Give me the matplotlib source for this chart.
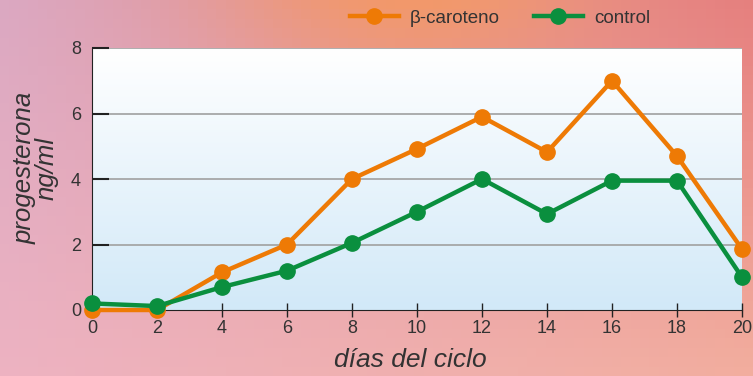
import matplotlib.pyplot as plt
import numpy as np
from matplotlib.colors import LinearSegmentedColormap
from matplotlib.lines import Line2D

plt.rcParams['font.family'] = ['Liberation Sans', 'DejaVu Sans']

dias = [0, 2, 4, 6, 8, 10, 12, 14, 16, 18, 20]
beta_caroteno = [0, 0, 1.15, 2.0, 4.0, 4.92, 5.9, 4.82, 7.0, 4.7, 1.86]
control = [0.2, 0.12, 0.7, 1.2, 2.05, 3.0, 4.0, 2.93, 3.95, 3.95, 1.0]
xticks = [0, 2, 4, 6, 8, 10, 12, 14, 16, 18, 20]
yticks = [0, 2, 4, 6, 8]

naranja = '#ee7a05'
verde = '#0a8f3e'

fig = plt.figure(figsize=(7.53, 3.76), dpi=100)

# fondo degradado rosa / naranja
bg = fig.add_axes([0, 0, 1, 1], zorder=-10)
h, w = 40, 80
yy, xx = np.mgrid[0:1:h * 1j, 0:1:w * 1j]
top_left = np.array([0.86, 0.66, 0.76])
top_mid = np.array([0.95, 0.60, 0.42])
top_right = np.array([0.90, 0.50, 0.50])
bot_left = np.array([0.93, 0.70, 0.76])
bot_right = np.array([0.95, 0.68, 0.62])
img = np.zeros((h, w, 3))
for c in range(3):
    left = top_left[c] * (1 - yy) + bot_left[c] * yy
    right = top_right[c] * (1 - yy) + bot_right[c] * yy
    img[..., c] = left * (1 - xx) + right * xx
# franja naranja arriba en el centro
glow = np.exp(-((xx - 0.55) / 0.25) ** 2) * np.clip(1 - yy * 3, 0, 1)
for c in range(3):
    img[..., c] = img[..., c] * (1 - glow) + top_mid[c] * glow
bg.imshow(img, aspect='auto', extent=[0, 1, 0, 1], origin='upper')
bg.axis('off')

ax = fig.add_axes([92 / 753, 1 - 310 / 376, 650 / 753, 262 / 376])

# degradado blanco -> azul claro del area del grafico
grad = np.linspace(0, 1, 100)[:, None]
cmap = LinearSegmentedColormap.from_list('g', ['#ffffff', '#d2e9f8'])
ax.imshow(grad, aspect='auto', cmap=cmap, extent=[0, 20, 0, 8], origin='upper', zorder=0)
ax.set_xlim(0, 20)
ax.set_ylim(0, 8)

for y in yticks[1:]:
    ax.axhline(y, color='#a0a0a0', lw=1.2, zorder=1)

ax.plot(dias, beta_caroteno, color=naranja, lw=3.2, marker='o', ms=11,
        zorder=3, clip_on=False)
ax.plot(dias, control, color=verde, lw=3.2, marker='o', ms=11,
        zorder=4, clip_on=False)

ax.set_xticks(xticks)
ax.set_yticks(yticks)
ax.tick_params(axis='x', direction='inout', length=10, width=1, colors='#222222',
               labelsize=13, labelcolor='#333333', pad=2)
ax.tick_params(axis='y', direction='in', length=12, width=1.5, colors='#222222',
               labelsize=13, labelcolor='#333333', pad=8)
for s in ['top', 'right']:
    ax.spines[s].set_visible(False)
ax.spines['left'].set_color('#222222')
ax.spines['bottom'].set_color('#222222')

fig.text(410 / 753, 1 - 360 / 376, 'días del ciclo', style='italic', fontsize=19,
         color='#333333', ha='center', va='center')
fig.text(36 / 753, 1 - 168 / 376, 'progesterona\nng/ml', style='italic', fontsize=18.5,
         color='#333333', ha='center', va='center', rotation=90, linespacing=0.9)

handles = [Line2D([], [], color=naranja, lw=3.2, marker='o', ms=11),
           Line2D([], [], color=verde, lw=3.2, marker='o', ms=11)]
fig.legend(handles, ['β-caroteno', 'control'], loc='center', ncol=2,
           bbox_to_anchor=(500 / 753, 1 - 18 / 376), frameon=False, fontsize=13.5,
           handlelength=2.6, columnspacing=1.8, handletextpad=0.6,
           labelcolor='#333333')

fig.savefig('out.png', dpi=100)
